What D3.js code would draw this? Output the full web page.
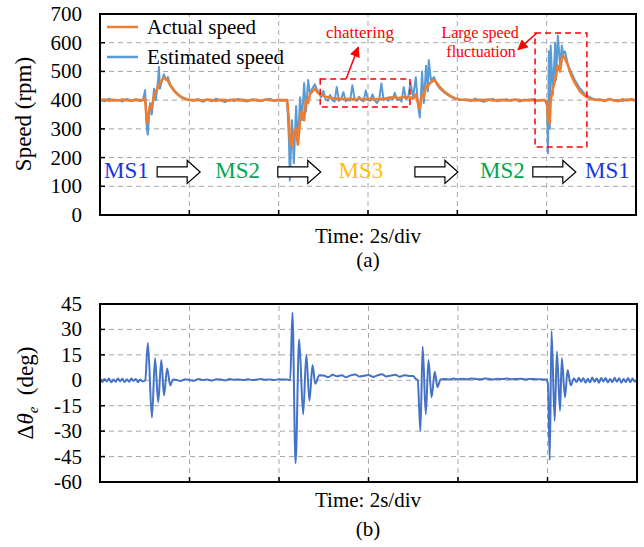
<!DOCTYPE html>
<html>
<head>
<meta charset="utf-8">
<script src="https://cdn.jsdelivr.net/npm/d3@7/dist/d3.min.js"></script>
<style>
  body { margin: 0; background: #fff; }
</style>
</head>
<body>
<svg id="chart" width="644" height="547" font-family="'Liberation Serif', 'DejaVu Serif', serif"></svg>
<script>
// ---- data ----
// time in seconds, 2 s per division
var speedTime = [
  0.00,0.10,0.20,0.30,0.40,0.50,0.60,0.70,0.80,0.90,
  0.96,1.01,1.05,1.07,1.12,1.16,1.21,1.25,1.30,1.32,1.34,1.39,1.43,1.48,1.52,1.57,1.66,1.75,1.84,1.97,
  2.10,2.20,2.30,2.40,2.50,2.60,2.70,2.80,2.90,3.00,3.10,3.20,3.30,3.40,3.50,3.60,3.70,3.80,3.90,4.00,4.10,
  4.19,4.23,4.25,4.30,4.34,4.39,4.43,4.48,4.52,4.57,4.61,4.66,4.70,4.75,4.81,4.88,
  4.95,5.00,5.05,5.10,5.15,5.20,5.25,5.30,5.35,5.40,5.45,5.50,5.55,5.60,5.65,5.70,5.75,5.80,5.85,5.90,
  5.95,6.00,6.05,6.10,6.15,6.20,6.25,6.30,6.35,6.40,6.45,6.50,6.55,6.60,6.65,6.70,6.75,6.80,6.85,6.90,6.95,
  7.01,7.07,7.12,7.16,7.21,7.25,7.30,7.34,7.36,7.41,7.48,7.54,7.61,7.72,7.84,7.95,8.06,
  8.20,8.30,8.40,8.50,8.60,8.70,8.80,8.90,9.00,9.10,9.20,9.30,9.40,9.50,9.60,9.70,9.80,9.90,
  9.96,10.01,10.03,10.05,10.07,10.09,10.14,10.19,10.21,10.25,10.30,10.34,10.37,10.41,10.48,10.54,10.63,10.75,10.86,10.97,11.08,
  11.20,11.30,11.40,11.50,11.60,11.70,11.80,11.90,12.00
];
var estimatedSpeed = [
  402,396,405,398,401,395,404,399,403,397,
  400,435,300,280,390,350,440,400,470,515,440,470,490,470,480,455,435,420,410,402,
  398,404,394,401,396,405,399,393,402,397,404,398,395,403,399,396,401,405,397,400,398,
  400,260,120,330,180,380,250,410,330,460,360,470,420,440,455,430,
  410,432,402,398,418,400,395,446,398,405,428,396,401,399,452,403,397,412,400,396,
  434,401,398,420,399,390,403,458,400,405,398,412,402,426,401,404,395,445,403,410,462,
  410,480,380,340,500,390,520,430,540,470,480,455,440,425,412,405,400,
  402,397,405,399,394,401,404,396,400,403,398,401,395,402,399,404,397,400,
  400,380,215,570,300,590,420,600,470,625,520,590,560,570,520,500,470,440,420,410,402,
  402,398,404,399,401,397,403,400,399
];
var actualSpeed = [
  400,402,398,401,399,402,400,398,401,400,
  400,405,320,335,380,375,415,430,445,455,455,470,478,475,468,452,432,418,408,401,
  400,401,399,402,400,398,401,400,399,402,400,401,399,400,401,398,402,400,399,401,400,
  400,330,260,240,290,300,245,330,360,330,400,390,420,430,440,425,
  420,415,412,410,408,407,405,406,404,405,403,404,405,403,404,402,403,405,404,403,
  402,404,405,403,402,404,403,405,404,406,408,407,409,410,408,407,409,410,411,409,410,
  405,420,390,370,420,410,450,445,455,462,470,460,445,428,415,406,402,
  401,400,399,401,400,402,399,400,401,399,400,402,400,399,401,400,399,400,
  400,395,330,360,320,400,440,470,490,520,500,545,555,545,520,490,460,430,415,405,401,
  401,397,404,400,396,403,399,404,398
];

var thetaTime = [
  0.00,0.05,0.10,0.15,0.20,0.25,0.30,0.35,0.40,0.45,0.50,0.55,0.60,0.65,0.70,0.75,0.80,0.85,0.90,0.95,
  1.01,1.07,1.16,1.23,1.30,1.37,1.43,1.50,1.57,1.63,
  1.70,1.80,1.90,2.00,2.10,2.20,2.30,2.40,2.50,2.60,2.70,2.80,2.90,3.00,3.10,3.20,3.30,3.40,3.50,3.60,3.70,3.80,3.90,4.00,4.10,
  4.18,4.25,4.30,4.37,4.45,4.54,4.61,4.68,4.75,4.81,4.90,
  5.00,5.10,5.20,5.30,5.40,5.50,5.60,5.70,5.80,5.90,6.00,6.10,6.20,6.30,6.40,6.50,6.60,6.70,6.80,6.90,
  7.00,7.05,7.10,7.16,7.21,7.28,7.34,7.41,7.48,7.54,7.61,
  7.70,7.80,7.90,8.00,8.10,8.20,8.30,8.40,8.50,8.60,8.70,8.80,8.90,9.00,9.10,9.20,9.30,9.40,9.50,9.60,9.70,9.80,9.90,
  9.97,10.01,10.05,10.09,10.16,10.21,10.28,10.32,10.39,10.45,10.52,10.59,
  10.65,10.70,10.75,10.80,10.85,10.90,10.95,11.00,11.05,11.10,11.15,11.20,11.25,11.30,
  11.35,11.40,11.45,11.50,11.55,11.60,11.65,11.70,11.75,11.80,11.85,11.90,11.95,12.00
];
var thetaError = [
  0.5,-1.0,0.8,-0.6,1.0,-1.2,0.4,-0.8,1.1,-0.5,0.9,-1.0,0.6,-0.9,1.0,-0.4,0.8,-1.1,0.5,-0.7,
  0,22,-22,13,-13,12,-9,7,-3,0.5,
  0.3,-0.4,0.6,0.2,-0.3,0.8,0.1,0.5,-0.2,0.6,0.4,-0.1,0.7,0.3,0.5,0.1,0.6,0.2,0.4,0.7,0.3,0.5,0.2,0.6,0.4,
  0.5,0,40,-49,24,-20,15,-12,9,-2,3,
  2.8,1.9,3.2,2.4,3.0,1.8,2.9,3.4,2.2,2.7,3.1,2.0,2.9,3.5,2.3,2.8,3.3,2.1,3.0,2.6,
  2.5,1.0,0,-30,20,-20,12,-10,5,-4,0.5,
  0.8,0.4,1.0,0.6,0.9,0.5,1.1,0.7,0.6,1.0,0.8,0.5,0.9,0.7,1.0,0.6,0.8,0.9,0.5,0.8,0.7,0.6,0.5,
  0.5,-2,-47,29,-24,17,-18,13,-10,6,-3,1,
  -1.0,1.5,-0.8,1.2,-1.4,0.9,-1.2,1.6,-0.9,1.1,-1.5,1.3,-0.7,1.4,
  -1.3,0.8,-1.1,1.5,-0.9,1.2,-1.4,0.7,-1.0,1.3,-1.2,1.0,-0.8,0.5
];

var speedTicks = [0,100,200,300,400,500,600,700];
var thetaTicks = [-60,-45,-30,-15,0,15,30,45];
var timeGrid = [2,4,6,8,10];

var modeNames = ["MS1","MS2","MS3","MS2","MS1"];
var modeColors = ["#1a35e6","#00a651","#ffc000","#00a651","#1a35e6"];
var modeTime = [0.59,3.08,5.84,9.01,11.36];
var arrowTime = [1.28,3.98,7.05,9.69];

var legendNames = ["Actual speed","Estimated speed"];
var legendColors = ["#ed7d31","#5b9bd5"];

if (speedTime.length !== estimatedSpeed.length || speedTime.length !== actualSpeed.length)
  console.error("speed lengths", speedTime.length, estimatedSpeed.length, actualSpeed.length);
if (thetaTime.length !== thetaError.length)
  console.error("theta lengths", thetaTime.length, thetaError.length);

var svg = d3.select("#chart");
var gridColor = "#a6a6a6";

function frame(x, y, yTicks, tickFmt){
  var g = svg.append("g");
  var x0 = x.range()[0], x1 = x.range()[1];
  var y0 = y.range()[0], y1 = y.range()[1];

  // dashed grid
  g.selectAll(".hg").data(yTicks.slice(1, -1)).enter().append("line")
    .attr("x1", x0).attr("x2", x1)
    .attr("y1", function(d){ return y(d); }).attr("y2", function(d){ return y(d); })
    .attr("stroke", gridColor).attr("stroke-width", 1).attr("stroke-dasharray", "5,4");
  g.selectAll(".vg").data(timeGrid).enter().append("line")
    .attr("x1", function(d){ return x(d); }).attr("x2", function(d){ return x(d); })
    .attr("y1", y0).attr("y2", y1)
    .attr("stroke", gridColor).attr("stroke-width", 1).attr("stroke-dasharray", "5,4");

  // inside ticks
  g.selectAll(".xt").data(timeGrid).enter().append("line")
    .attr("x1", function(d){ return x(d); }).attr("x2", function(d){ return x(d); })
    .attr("y1", y0).attr("y2", y0 - 5)
    .attr("stroke", "#000").attr("stroke-width", 1.5);
  g.selectAll(".yt").data(yTicks).enter().append("line")
    .attr("x1", x0).attr("x2", x0 + 5)
    .attr("y1", function(d){ return y(d); }).attr("y2", function(d){ return y(d); })
    .attr("stroke", "#000").attr("stroke-width", 1.5);

  g.selectAll(".yl").data(yTicks).enter().append("text")
    .attr("x", x0 - 18).attr("y", function(d){ return y(d) + 7; })
    .attr("text-anchor", "end").attr("font-size", 21)
    .text(tickFmt);
  return g;
}

function border(x, y){
  svg.append("rect")
    .attr("x", x.range()[0]).attr("y", y.range()[1])
    .attr("width", x.range()[1] - x.range()[0])
    .attr("height", y.range()[0] - y.range()[1])
    .attr("fill", "none").attr("stroke", "#000").attr("stroke-width", 2);
}

// ---------- (a) speed ----------
var xa = d3.scaleLinear().domain([0, 12]).range([100, 636]);
var ya = d3.scaleLinear().domain([0, 700]).range([215, 14]);
frame(xa, ya, speedTicks, function(d){ return d; });

var speedLine = function(vals){
  return d3.line()
    .x(function(d, i){ return xa(speedTime[i]); })
    .y(function(d){ return ya(d); })(vals);
};
svg.append("path").attr("d", speedLine(estimatedSpeed))
  .attr("fill", "none").attr("stroke", legendColors[1]).attr("stroke-width", 2)
  .attr("stroke-linejoin", "round");
svg.append("path").attr("d", speedLine(actualSpeed))
  .attr("fill", "none").attr("stroke", legendColors[0]).attr("stroke-width", 2.6)
  .attr("stroke-linejoin", "round");
border(xa, ya);

// legend
var leg = svg.append("g");
legendNames.forEach(function(name, i){
  var ly = 27 + i * 30;
  leg.append("line").attr("x1", 107).attr("x2", 138).attr("y1", ly).attr("y2", ly)
    .attr("stroke", legendColors[i]).attr("stroke-width", 2.5);
  leg.append("text").attr("x", 147).attr("y", ly + 7).attr("font-size", 21).text(name);
});

// operating modes and block arrows
svg.selectAll(".ms").data(modeNames).enter().append("text")
  .attr("x", function(d, i){ return xa(modeTime[i]); })
  .attr("y", ya(129))
  .attr("text-anchor", "middle").attr("font-size", 23)
  .attr("fill", function(d, i){ return modeColors[i]; })
  .text(function(d){ return d; });

svg.selectAll(".arr").data(arrowTime).enter().append("path")
  .attr("transform", function(d){ return "translate(" + xa(d) + "," + ya(150) + ")"; })
  .attr("d", "M0,-5 L30,-5 L30,-11.5 L43,0 L30,11.5 L30,5 L0,5 Z")
  .attr("fill", "#fff").attr("stroke", "#000").attr("stroke-width", 1.2);

// red annotations
var red = "#ff0000";
svg.append("defs").append("marker")
  .attr("id", "redhead").attr("viewBox", "0 0 10 10")
  .attr("refX", 9).attr("refY", 5)
  .attr("markerWidth", 7).attr("markerHeight", 7)
  .attr("orient", "auto")
  .append("path").attr("d", "M0,0 L10,5 L0,10 Z").attr("fill", red);

var boxes = [
  {t0: 4.93, t1: 6.94, s0: 376, s1: 474},
  {t0: 9.74, t1: 10.90, s0: 237, s1: 634}
];
svg.selectAll(".box").data(boxes).enter().append("rect")
  .attr("x", function(d){ return xa(d.t0); })
  .attr("y", function(d){ return ya(d.s1); })
  .attr("width", function(d){ return xa(d.t1) - xa(d.t0); })
  .attr("height", function(d){ return ya(d.s0) - ya(d.s1); })
  .attr("fill", "none").attr("stroke", red).attr("stroke-width", 1.5)
  .attr("stroke-dasharray", "6,4");

var pointers = [
  {t0: 5.51, s0: 474, t1: 5.78, s1: 584},
  {t0: 9.78, s0: 634, t1: 9.36, s1: 576}
];
svg.selectAll(".ptr").data(pointers).enter().append("line")
  .attr("x1", function(d){ return xa(d.t0); }).attr("y1", function(d){ return ya(d.s0); })
  .attr("x2", function(d){ return xa(d.t1); }).attr("y2", function(d){ return ya(d.s1); })
  .attr("stroke", red).attr("stroke-width", 1.5).attr("marker-end", "url(#redhead)");

svg.append("text").attr("x", xa(5.82)).attr("y", 38)
  .attr("text-anchor", "middle").attr("font-size", 17).attr("fill", red).text("chattering");
svg.append("text").attr("x", xa(8.51)).attr("y", 38)
  .attr("text-anchor", "middle").attr("font-size", 16).attr("fill", red).text("Large speed");
svg.append("text").attr("x", xa(8.53)).attr("y", 57)
  .attr("text-anchor", "middle").attr("font-size", 16).attr("fill", red).text("fluctuation");

svg.append("text").attr("transform", "translate(31,114) rotate(-90)")
  .attr("text-anchor", "middle").attr("font-size", 23).text("Speed (rpm)");
svg.append("text").attr("x", 368).attr("y", 243)
  .attr("text-anchor", "middle").attr("font-size", 21).text("Time: 2s/div");
svg.append("text").attr("x", 368).attr("y", 267)
  .attr("text-anchor", "middle").attr("font-size", 21).text("(a)");

// ---------- (b) position error ----------
var xb = d3.scaleLinear().domain([0, 12]).range([100, 637]);
var yb = d3.scaleLinear().domain([-60, 45]).range([482, 304]);
frame(xb, yb, thetaTicks, function(d){ return d; });

svg.append("path")
  .attr("d", d3.line()
    .curve(d3.curveMonotoneX)
    .x(function(d, i){ return xb(thetaTime[i]); })
    .y(function(d){ return yb(d); })(thetaError))
  .attr("fill", "none").attr("stroke", "#4472c4").attr("stroke-width", 2)
  .attr("stroke-linejoin", "round");
border(xb, yb);

var yl = svg.append("text").attr("transform", "translate(33,393) rotate(-90)")
  .attr("text-anchor", "middle").attr("font-size", 23);
yl.append("tspan").text("Δ");
yl.append("tspan").attr("font-style", "italic").text("θ");
yl.append("tspan").attr("font-style", "italic").attr("font-size", 15).attr("dy", 5).text("e");
yl.append("tspan").attr("dy", -5).text("\u00a0\u00a0(deg)");

svg.append("text").attr("x", 368).attr("y", 507)
  .attr("text-anchor", "middle").attr("font-size", 21).text("Time: 2s/div");
svg.append("text").attr("x", 368).attr("y", 536)
  .attr("text-anchor", "middle").attr("font-size", 21).text("(b)");
</script>
</body>
</html>
